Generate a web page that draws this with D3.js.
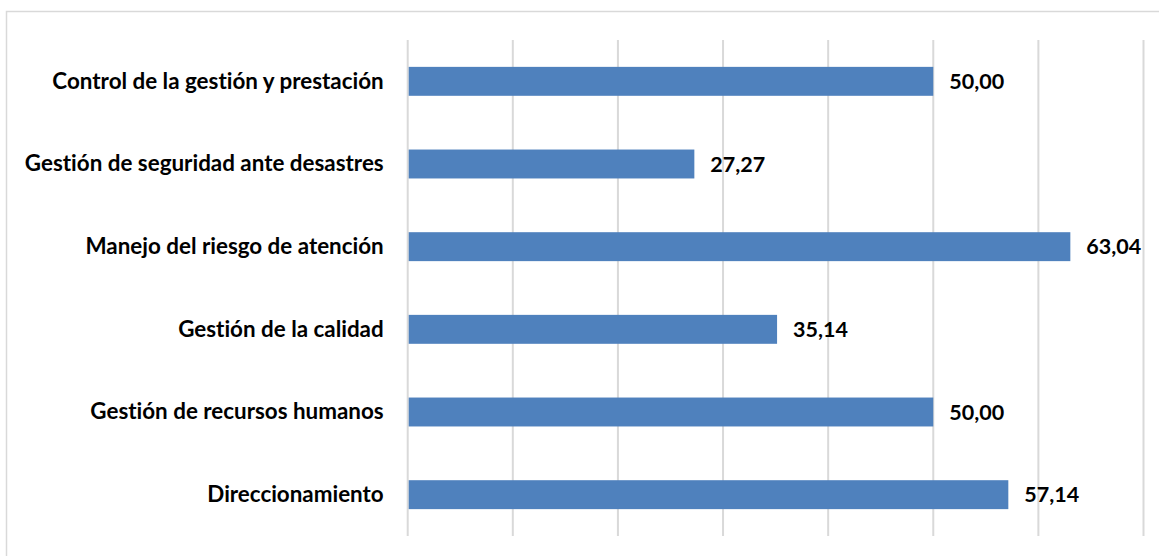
<!DOCTYPE html>
<html>
<head>
<meta charset="utf-8">
<script src="https://cdn.jsdelivr.net/npm/d3@7"></script>
<style>
  html, body { margin: 0; padding: 0; background: #fff; overflow: hidden; }
  svg { display: block; }
  text { font-family: Lato, "Open Sans", sans-serif; font-weight: 700; fill: #000;
         font-variant-ligatures: none; font-feature-settings: "liga" 0, "dlig" 0; }
</style>
</head>
<body>
<svg id="chart" width="1159" height="556"></svg>
<script>
// Categories, top to bottom
const categories = [
  "Control de la gestión y prestación",
  "Gestión de seguridad ante desastres",
  "Manejo del riesgo de atención",
  "Gestión de la calidad",
  "Gestión de recursos humanos",
  "Direccionamiento"
];
const values = [50.00, 27.27, 63.04, 35.14, 50.00, 57.14];
const gridTicks = [0, 10, 20, 30, 40, 50, 60, 70];

const svg = d3.select("#chart");
const W = 1159, H = 556;
const plot = { left: 407.7, right: 1143.5, top: 40, bottom: 536 };

const locale = d3.formatLocale({ decimal: ",", thousands: ".", grouping: [3], currency: ["", ""] });
const fmt = locale.format(".2f");

// Chart frame (right and bottom edges fall outside the canvas)
svg.append("rect")
  .attr("x", 6.5).attr("y", 11.5)
  .attr("width", W + 20).attr("height", H + 20)
  .attr("fill", "#fff").attr("stroke", "#d9d9d9").attr("stroke-width", 1.5);

const x = d3.scaleLinear().domain([0, 70]).range([plot.left, plot.right]);
const y = d3.scaleBand().domain(categories)
  .range([plot.top, plot.bottom])
  .paddingInner(0.65).paddingOuter(0.325);

// Vertical gridlines
svg.append("g").selectAll("line")
  .data(gridTicks)
  .join("line")
  .attr("x1", d => x(d)).attr("x2", d => x(d))
  .attr("y1", plot.top).attr("y2", plot.bottom)
  .attr("stroke", "#d9d9d9").attr("stroke-width", 2);

// Bars
svg.append("g").selectAll("rect")
  .data(categories)
  .join("rect")
  .attr("x", x(0) + 1)
  .attr("y", d => y(d))
  .attr("width", (d, i) => x(values[i]) - x(0) - 1)
  .attr("height", y.bandwidth())
  .attr("fill", "#4f81bd");

// Category labels
const yAxis = d3.axisLeft(y).tickSize(0).tickPadding(24);
const ga = svg.append("g").attr("transform", `translate(${plot.left},0)`).call(yAxis);
ga.select(".domain").remove();
ga.selectAll("text")
  .attr("font-family", "Lato, 'Open Sans', sans-serif")
  .attr("font-size", 22.4).attr("font-weight", 700).attr("fill", "#000");

// Value labels
svg.append("g").selectAll("text")
  .data(categories)
  .join("text")
  .attr("x", (d, i) => x(values[i]) + 16)
  .attr("y", d => y(d) + y.bandwidth() / 2)
  .attr("dy", "0.35em")
  .attr("font-size", 21.5)
  .text((d, i) => fmt(values[i]));
</script>
</body>
</html>
